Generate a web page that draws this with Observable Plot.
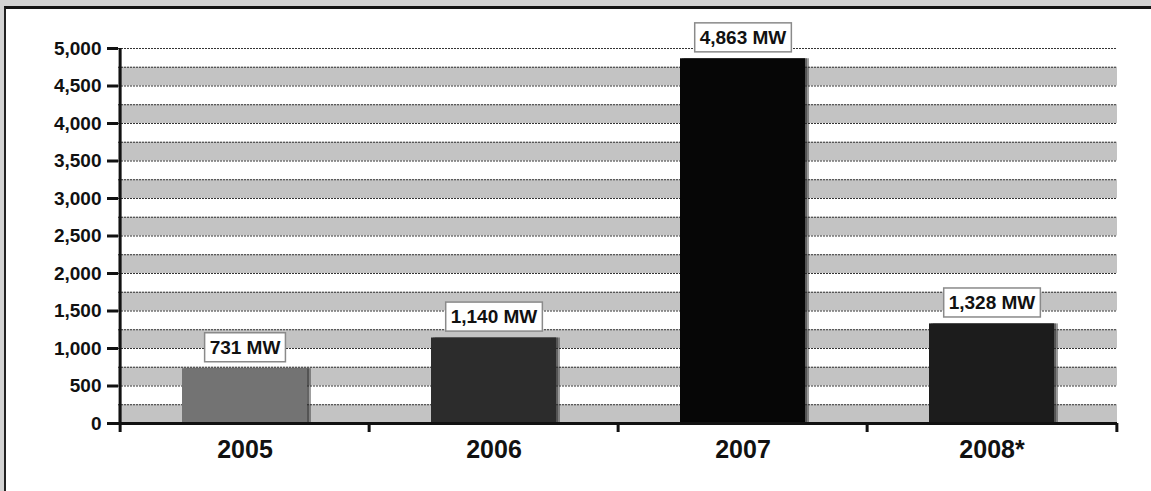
<!DOCTYPE html>
<html>
<head>
<meta charset="utf-8">
<script src="https://cdn.jsdelivr.net/npm/d3@7"></script>
<script src="https://cdn.jsdelivr.net/npm/@observablehq/plot@0.6"></script>
<style>
  html, body { margin: 0; padding: 0; background: #d3d3d3; }
  #wrap { position: relative; width: 1151px; height: 491px; overflow: hidden; }
  #frame { position: absolute; left: 4px; top: 6px; right: -4px; bottom: -4px;
           background: #ffffff; border-top: 3px solid #151515; border-left: 2px solid #222; }
  #chart { position: absolute; left: 0; top: 0; }
</style>
</head>
<body>
<div id="wrap"><div id="frame"></div><div id="chart"></div></div>
<script>
// ---- data ----
const years = ["2005", "2006", "2007", "2008*"];
const capacityMW = [731, 1140, 4863, 1328];
const valueLabels = ["731 MW", "1,140 MW", "4,863 MW", "1,328 MW"];
const barColors = ["#737373", "#2c2c2c", "#060606", "#1c1c1c"];
const yTicks = [0, 500, 1000, 1500, 2000, 2500, 3000, 3500, 4000, 4500, 5000];
const gridLevels = [250, 500, 750, 1000, 1250, 1500, 1750, 2000, 2250, 2500, 2750, 3000, 3250, 3500, 3750, 4000, 4250, 4500, 4750, 5000];
const shadedBandStarts = [0, 500, 1000, 1500, 2000, 2500, 3000, 3500, 4000, 4500];
const bandSize = 250;

const data = years.map((y, i) => ({year: y, value: capacityMW[i], label: valueLabels[i], color: barColors[i]}));

const W = 1151, H = 491, mL = 118, mR = 34, mT = 48, mB = 68;
const step = (W - mL - mR) / years.length;
const font = "Arial, 'Liberation Sans', sans-serif";

const chart = Plot.plot({
  width: W, height: H,
  marginLeft: mL, marginRight: mR, marginTop: mT, marginBottom: mB,
  style: {fontFamily: font, background: "transparent", color: "#111", overflow: "visible"},
  x: {domain: years, paddingInner: 0.5, paddingOuter: 0.25, axis: null, label: null},
  y: {domain: [0, 5000], axis: null, label: null},
  color: {type: "identity"},
  marks: [
    Plot.rect(shadedBandStarts, {y1: d => d, y2: d => d + bandSize, fill: "#c3c3c3"}),
    Plot.ruleY(gridLevels, {stroke: "#333", strokeWidth: 1.2, strokeDasharray: "2,1"}),
    Plot.barY(data, {x: "year", y: "value", dx: 4, fill: "#2a2a2a", fillOpacity: 0.45}),
    Plot.barY(data, {x: "year", y: "value", dx: 2, fill: "#2a2a2a", fillOpacity: 0.5}),
    Plot.barY(data, {x: "year", y: "value", fill: "color"}),
    Plot.text(data, {x: "year", y: "value", text: "label", dy: -21, fontSize: 19, fontWeight: "bold", fill: "#111"}),
    Plot.ruleY([0], {stroke: "#111", strokeWidth: 3}),
    Plot.ruleX([years[0]], {dx: -step / 2, y1: 0, y2: 5000, stroke: "#111", strokeWidth: 3}),
    Plot.axisY({ticks: yTicks, tickFormat: d3.format(","), tickSize: 11, tickPadding: 6, strokeWidth: 3,
                fontSize: 19, fontWeight: "bold", fill: "#111", label: null}),
    Plot.axisX({tickSize: 9, strokeWidth: 3, dx: -step / 2, tickFormat: () => "", label: null}),
    Plot.axisX([years[years.length - 1]], {tickSize: 9, strokeWidth: 3, dx: step / 2, tickFormat: () => "", label: null}),
    Plot.axisX({tickSize: 0, tickPadding: 17, fontSize: 25, fontWeight: "bold", fill: "#111", label: null})
  ]
});

document.getElementById("chart").appendChild(chart);

// white label boxes behind value labels
d3.select(chart).selectAll('g[aria-label="text"] text').each(function () {
  const bb = this.getBBox();
  const padX = 5, boxH = 29;
  const cy = bb.y + bb.height / 2;
  const r = document.createElementNS("http://www.w3.org/2000/svg", "rect");
  r.setAttribute("x", bb.x - padX);
  r.setAttribute("y", cy - boxH / 2);
  r.setAttribute("width", bb.width + 2 * padX);
  r.setAttribute("height", boxH);
  r.setAttribute("fill", "#fff");
  r.setAttribute("stroke", "#8a8a8a");
  r.setAttribute("stroke-width", "1.5");
  const t = this.getAttribute("transform");
  if (t) r.setAttribute("transform", t);
  this.parentNode.insertBefore(r, this);
});
</script>
</body>
</html>
